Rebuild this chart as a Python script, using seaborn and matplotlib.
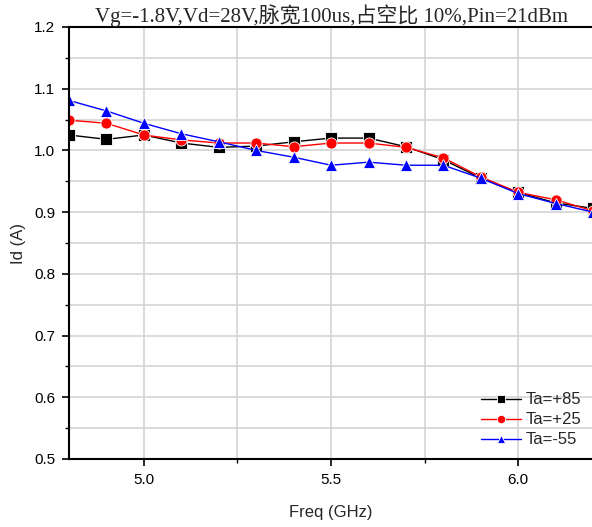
import numpy as np
import pandas as pd
import matplotlib
matplotlib.use("Agg")
import matplotlib.pyplot as plt
from matplotlib.ticker import MultipleLocator
import seaborn as sns

freq = [4.8, 4.9, 5.0, 5.1, 5.2, 5.3, 5.4, 5.5, 5.6, 5.7, 5.8, 5.9, 6.0, 6.1, 6.2]
id_p85 = [1.025, 1.018, 1.025, 1.012, 1.005, 1.007, 1.014, 1.020, 1.020, 1.006, 0.985, 0.955, 0.932, 0.915, 0.906]
id_p25 = [1.049, 1.044, 1.025, 1.017, 1.012, 1.012, 1.006, 1.012, 1.012, 1.005, 0.988, 0.957, 0.932, 0.920, 0.902]
id_m55 = [1.081, 1.064, 1.044, 1.027, 1.014, 1.000, 0.989, 0.976, 0.981, 0.976, 0.976, 0.955, 0.930, 0.914, 0.900]
labels = ["Ta=+85", "Ta=+25", "Ta=-55"]
title = "Vg=-1.8V,Vd=28V,脉宽100us,占空比 10%,Pin=21dBm"

df = pd.DataFrame({
    "freq": freq * 3,
    "id": id_p85 + id_p25 + id_m55,
    "series": [labels[0]] * len(freq) + [labels[1]] * len(freq) + [labels[2]] * len(freq),
})

sns.set_theme(style="white")
plt.rcParams["font.family"] = ["Liberation Sans", "DejaVu Sans"]

fig = plt.figure(figsize=(5.92, 5.27), dpi=100)
ax = fig.add_axes([69 / 592, 1 - 459 / 527, 1 - 69 / 592 + 0.002, (459 - 27) / 527])

palette = {labels[0]: "#000000", labels[1]: "#ff0000", labels[2]: "#0000ff"}
markers = {labels[0]: "s", labels[1]: "o", labels[2]: "^"}
sns.lineplot(data=df, x="freq", y="id", hue="series", style="series",
             palette=palette, markers=markers, dashes=False, ax=ax,
             linewidth=1.0, markersize=8, markeredgewidth=0.6, sort=False)

ax.set_xlim(4.8, 6.2)
ax.set_ylim(0.5, 1.2)
ax.xaxis.set_major_locator(MultipleLocator(0.5))
ax.xaxis.set_minor_locator(MultipleLocator(0.25))
ax.yaxis.set_major_locator(MultipleLocator(0.1))
ax.yaxis.set_minor_locator(MultipleLocator(0.05))
ax.grid(True, which="both", color="#d4d4d4", linewidth=1.2)
ax.set_axisbelow(True)
ax.tick_params(which="major", direction="out", length=5, width=1.2, colors="black",
               labelsize=11, left=True, bottom=True, pad=5)
ax.tick_params(which="minor", direction="out", length=3, width=1.0, colors="black",
               left=True, bottom=True)
ax.xaxis.set_major_formatter(matplotlib.ticker.FormatStrFormatter("%.1f"))
ax.yaxis.set_major_formatter(matplotlib.ticker.FormatStrFormatter("%.1f"))
for s in ["left", "bottom", "top"]:
    ax.spines[s].set_color("black")
    ax.spines[s].set_linewidth(1.5)
ax.spines["right"].set_visible(False)

ax.set_xlabel("Freq (GHz)", fontsize=12, labelpad=13)
ax.set_ylabel("Id (A)", fontsize=12, labelpad=6)
ax.set_title(title, fontsize=15, family=["Liberation Serif", "Noto Sans CJK SC"], pad=3)

leg = ax.legend(loc="lower right", frameon=False, fontsize=12, handlelength=2.4,
                handletextpad=0.3, labelspacing=0.3, borderaxespad=0.3,
                markerscale=0.75)

fig.savefig("out.png", dpi=100)
